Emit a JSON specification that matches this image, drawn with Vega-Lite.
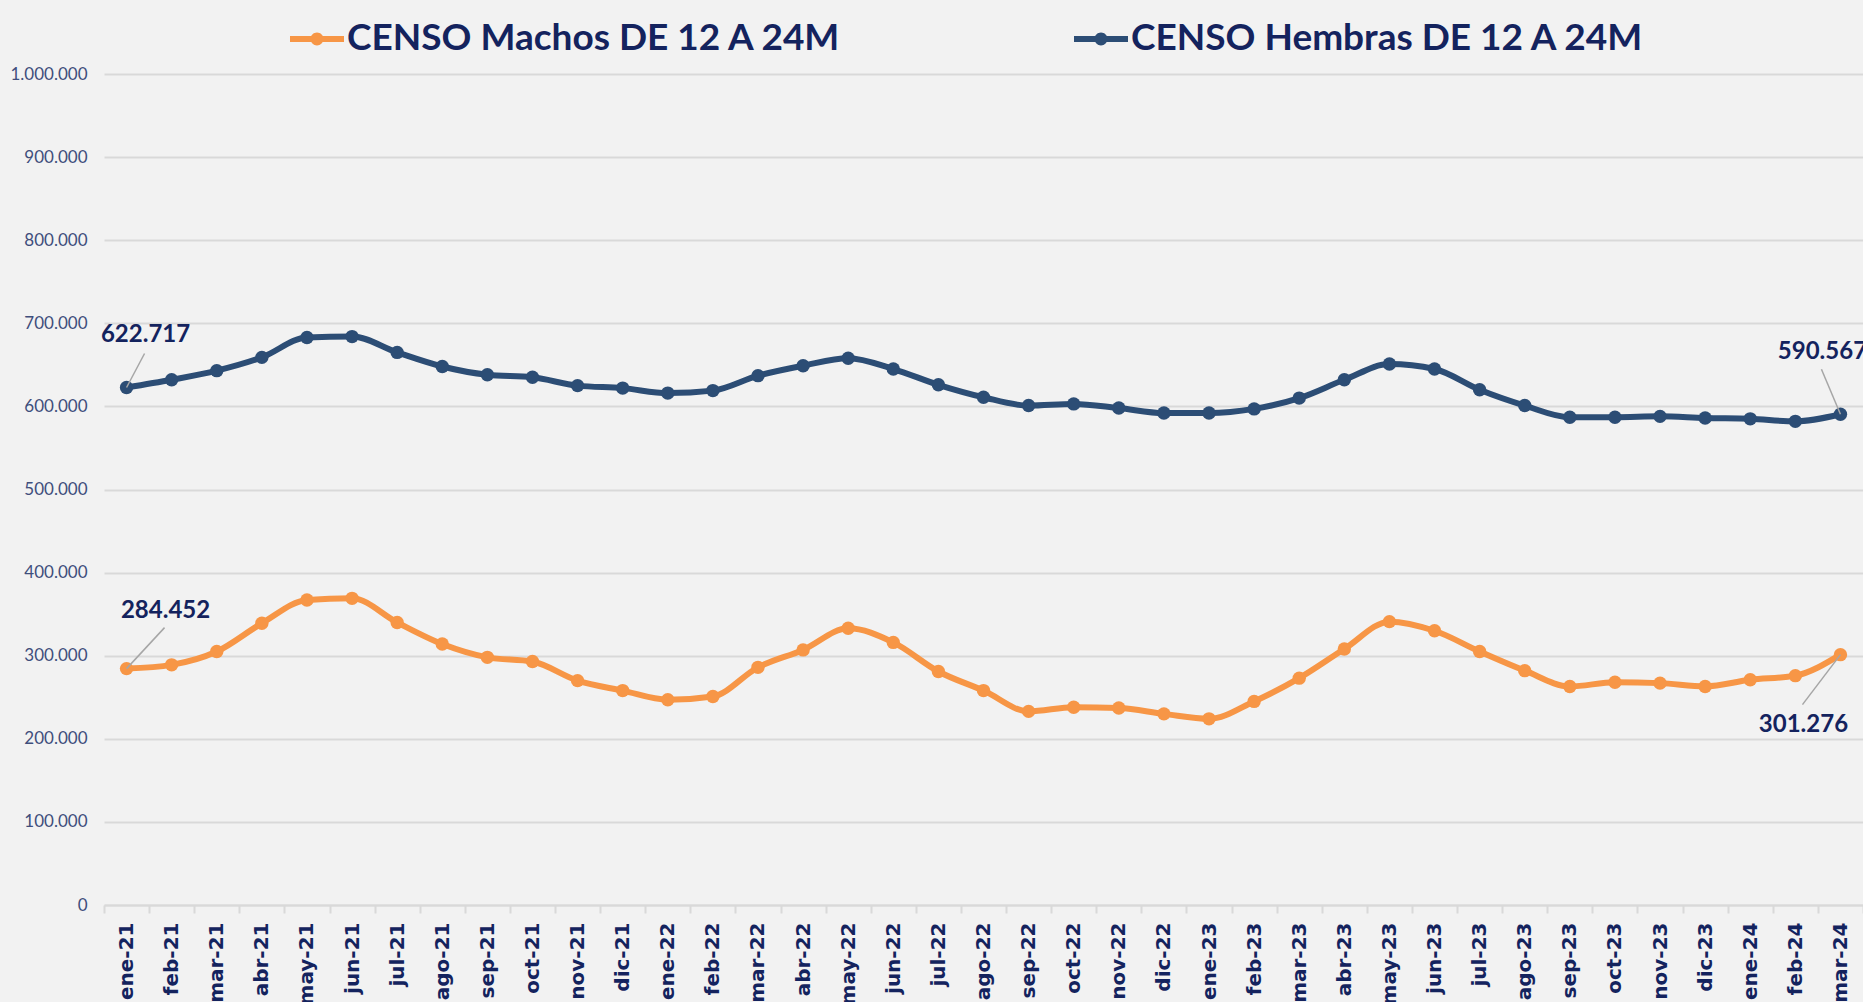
{
  "$schema": "https://vega.github.io/schema/vega-lite/v6.json",
  "autosize": {"type": "none"},
  "padding": {"left": 104, "top": 74, "right": 0, "bottom": 97},
  "width": 1759,
  "height": 831,
  "background": "#F2F2F2",
  "config": {
    "view": {"stroke": null},
    "locale": {"number": {"decimal": ",", "thousands": ".", "grouping": [3], "currency": ["", " €"]}}
  },
  "data": {"values": [
    {"mes": "ene-21", "serie": "CENSO Machos DE 12 A 24M", "valor": 284452},
    {"mes": "feb-21", "serie": "CENSO Machos DE 12 A 24M", "valor": 289000},
    {"mes": "mar-21", "serie": "CENSO Machos DE 12 A 24M", "valor": 305000},
    {"mes": "abr-21", "serie": "CENSO Machos DE 12 A 24M", "valor": 339000},
    {"mes": "may-21", "serie": "CENSO Machos DE 12 A 24M", "valor": 367000},
    {"mes": "jun-21", "serie": "CENSO Machos DE 12 A 24M", "valor": 369000},
    {"mes": "jul-21", "serie": "CENSO Machos DE 12 A 24M", "valor": 340000},
    {"mes": "ago-21", "serie": "CENSO Machos DE 12 A 24M", "valor": 314000},
    {"mes": "sep-21", "serie": "CENSO Machos DE 12 A 24M", "valor": 298000},
    {"mes": "oct-21", "serie": "CENSO Machos DE 12 A 24M", "valor": 293000},
    {"mes": "nov-21", "serie": "CENSO Machos DE 12 A 24M", "valor": 270000},
    {"mes": "dic-21", "serie": "CENSO Machos DE 12 A 24M", "valor": 258000},
    {"mes": "ene-22", "serie": "CENSO Machos DE 12 A 24M", "valor": 247000},
    {"mes": "feb-22", "serie": "CENSO Machos DE 12 A 24M", "valor": 251000},
    {"mes": "mar-22", "serie": "CENSO Machos DE 12 A 24M", "valor": 286000},
    {"mes": "abr-22", "serie": "CENSO Machos DE 12 A 24M", "valor": 307000},
    {"mes": "may-22", "serie": "CENSO Machos DE 12 A 24M", "valor": 333000},
    {"mes": "jun-22", "serie": "CENSO Machos DE 12 A 24M", "valor": 316000},
    {"mes": "jul-22", "serie": "CENSO Machos DE 12 A 24M", "valor": 281000},
    {"mes": "ago-22", "serie": "CENSO Machos DE 12 A 24M", "valor": 258000},
    {"mes": "sep-22", "serie": "CENSO Machos DE 12 A 24M", "valor": 233000},
    {"mes": "oct-22", "serie": "CENSO Machos DE 12 A 24M", "valor": 238000},
    {"mes": "nov-22", "serie": "CENSO Machos DE 12 A 24M", "valor": 237000},
    {"mes": "dic-22", "serie": "CENSO Machos DE 12 A 24M", "valor": 230000},
    {"mes": "ene-23", "serie": "CENSO Machos DE 12 A 24M", "valor": 224000},
    {"mes": "feb-23", "serie": "CENSO Machos DE 12 A 24M", "valor": 245000},
    {"mes": "mar-23", "serie": "CENSO Machos DE 12 A 24M", "valor": 273000},
    {"mes": "abr-23", "serie": "CENSO Machos DE 12 A 24M", "valor": 308000},
    {"mes": "may-23", "serie": "CENSO Machos DE 12 A 24M", "valor": 341000},
    {"mes": "jun-23", "serie": "CENSO Machos DE 12 A 24M", "valor": 330000},
    {"mes": "jul-23", "serie": "CENSO Machos DE 12 A 24M", "valor": 305000},
    {"mes": "ago-23", "serie": "CENSO Machos DE 12 A 24M", "valor": 282000},
    {"mes": "sep-23", "serie": "CENSO Machos DE 12 A 24M", "valor": 263000},
    {"mes": "oct-23", "serie": "CENSO Machos DE 12 A 24M", "valor": 268000},
    {"mes": "nov-23", "serie": "CENSO Machos DE 12 A 24M", "valor": 267000},
    {"mes": "dic-23", "serie": "CENSO Machos DE 12 A 24M", "valor": 263000},
    {"mes": "ene-24", "serie": "CENSO Machos DE 12 A 24M", "valor": 271000},
    {"mes": "feb-24", "serie": "CENSO Machos DE 12 A 24M", "valor": 276000},
    {"mes": "mar-24", "serie": "CENSO Machos DE 12 A 24M", "valor": 301276},
    {"mes": "ene-21", "serie": "CENSO Hembras DE 12 A 24M", "valor": 622717},
    {"mes": "feb-21", "serie": "CENSO Hembras DE 12 A 24M", "valor": 632000},
    {"mes": "mar-21", "serie": "CENSO Hembras DE 12 A 24M", "valor": 643000},
    {"mes": "abr-21", "serie": "CENSO Hembras DE 12 A 24M", "valor": 659000},
    {"mes": "may-21", "serie": "CENSO Hembras DE 12 A 24M", "valor": 683000},
    {"mes": "jun-21", "serie": "CENSO Hembras DE 12 A 24M", "valor": 684000},
    {"mes": "jul-21", "serie": "CENSO Hembras DE 12 A 24M", "valor": 665000},
    {"mes": "ago-21", "serie": "CENSO Hembras DE 12 A 24M", "valor": 648000},
    {"mes": "sep-21", "serie": "CENSO Hembras DE 12 A 24M", "valor": 638000},
    {"mes": "oct-21", "serie": "CENSO Hembras DE 12 A 24M", "valor": 635000},
    {"mes": "nov-21", "serie": "CENSO Hembras DE 12 A 24M", "valor": 625000},
    {"mes": "dic-21", "serie": "CENSO Hembras DE 12 A 24M", "valor": 622000},
    {"mes": "ene-22", "serie": "CENSO Hembras DE 12 A 24M", "valor": 616000},
    {"mes": "feb-22", "serie": "CENSO Hembras DE 12 A 24M", "valor": 619000},
    {"mes": "mar-22", "serie": "CENSO Hembras DE 12 A 24M", "valor": 637000},
    {"mes": "abr-22", "serie": "CENSO Hembras DE 12 A 24M", "valor": 649000},
    {"mes": "may-22", "serie": "CENSO Hembras DE 12 A 24M", "valor": 658000},
    {"mes": "jun-22", "serie": "CENSO Hembras DE 12 A 24M", "valor": 645000},
    {"mes": "jul-22", "serie": "CENSO Hembras DE 12 A 24M", "valor": 626000},
    {"mes": "ago-22", "serie": "CENSO Hembras DE 12 A 24M", "valor": 611000},
    {"mes": "sep-22", "serie": "CENSO Hembras DE 12 A 24M", "valor": 601000},
    {"mes": "oct-22", "serie": "CENSO Hembras DE 12 A 24M", "valor": 603000},
    {"mes": "nov-22", "serie": "CENSO Hembras DE 12 A 24M", "valor": 598000},
    {"mes": "dic-22", "serie": "CENSO Hembras DE 12 A 24M", "valor": 592000},
    {"mes": "ene-23", "serie": "CENSO Hembras DE 12 A 24M", "valor": 592000},
    {"mes": "feb-23", "serie": "CENSO Hembras DE 12 A 24M", "valor": 597000},
    {"mes": "mar-23", "serie": "CENSO Hembras DE 12 A 24M", "valor": 610000},
    {"mes": "abr-23", "serie": "CENSO Hembras DE 12 A 24M", "valor": 632000},
    {"mes": "may-23", "serie": "CENSO Hembras DE 12 A 24M", "valor": 651000},
    {"mes": "jun-23", "serie": "CENSO Hembras DE 12 A 24M", "valor": 645000},
    {"mes": "jul-23", "serie": "CENSO Hembras DE 12 A 24M", "valor": 620000},
    {"mes": "ago-23", "serie": "CENSO Hembras DE 12 A 24M", "valor": 601000},
    {"mes": "sep-23", "serie": "CENSO Hembras DE 12 A 24M", "valor": 587000},
    {"mes": "oct-23", "serie": "CENSO Hembras DE 12 A 24M", "valor": 587000},
    {"mes": "nov-23", "serie": "CENSO Hembras DE 12 A 24M", "valor": 588000},
    {"mes": "dic-23", "serie": "CENSO Hembras DE 12 A 24M", "valor": 586000},
    {"mes": "ene-24", "serie": "CENSO Hembras DE 12 A 24M", "valor": 585000},
    {"mes": "feb-24", "serie": "CENSO Hembras DE 12 A 24M", "valor": 582000},
    {"mes": "mar-24", "serie": "CENSO Hembras DE 12 A 24M", "valor": 590567}
  ]},
  "encoding": {
    "x": {
      "field": "mes", "type": "ordinal",
      "scale": {
        "type": "band", "paddingInner": 0, "paddingOuter": 0,
        "domain": ["ene-21","feb-21","mar-21","abr-21","may-21","jun-21","jul-21","ago-21","sep-21","oct-21","nov-21","dic-21","ene-22","feb-22","mar-22","abr-22","may-22","jun-22","jul-22","ago-22","sep-22","oct-22","nov-22","dic-22","ene-23","feb-23","mar-23","abr-23","may-23","jun-23","jul-23","ago-23","sep-23","oct-23","nov-23","dic-23","ene-24","feb-24","mar-24"]
      },
      "axis": {
        "title": null, "labelAngle": -90, "labelAlign": "right", "labelBaseline": "middle",
        "labelFont": "DejaVu Sans", "labelFontWeight": "bold", "labelFontSize": 20, "labelColor": "#14235E",
        "labelPadding": 9, "tickBand": "extent", "ticks": true, "tickColor": "#D9D9D9", "tickWidth": 2, "tickSize": 8,
        "domain": true, "domainColor": "#D9D9D9", "domainWidth": 2, "grid": false, "labelOverlap": false
      }
    },
    "y": {
      "field": "valor", "type": "quantitative",
      "scale": {"domain": [0, 1000000], "nice": false},
      "axis": {
        "title": null, "values": [0,100000,200000,300000,400000,500000,600000,700000,800000,900000,1000000],
        "format": ",d", "labelFont": "Lato", "labelFontSize": 17, "labelColor": "#404E7C",
        "ticks": false, "domain": false, "labelPadding": 17,
        "grid": true, "gridColor": "#D9D9D9", "gridWidth": 2
      }
    }
  },
  "layer": [
    {
      "mark": {"type": "line", "interpolate": "monotone", "strokeWidth": 6, "point": {"filled": true, "size": 180}},
      "encoding": {
        "color": {
          "field": "serie", "type": "nominal",
          "scale": {"domain": ["CENSO Machos DE 12 A 24M", "CENSO Hembras DE 12 A 24M"], "range": ["#F79646", "#2C4D75"]},
          "legend": {
            "title": null, "orient": "none", "direction": "horizontal", "legendX": 186, "legendY": -62,
            "labelFont": "Lato", "labelFontWeight": "bold", "labelFontSize": 37, "labelColor": "#14235E",
            "symbolType": "M-1,-0.11L1,-0.11L1,0.11L-1,0.11Z M-0.24,0A0.24,0.24 0 1,1 0.24,0A0.24,0.24 0 1,1 -0.24,0Z",
            "symbolSize": 2916, "symbolStrokeWidth": 0, "labelOffset": 3, "columnPadding": 232, "labelLimit": 0,
            "encode": {"symbols": {"update": {"fill": {"scale": "color", "field": "value"}, "stroke": {"value": "transparent"}, "opacity": {"value": 1}}}}
          }
        }
      }
    },
    {
      "transform": [{"filter": "datum.mes == 'ene-21' && datum.serie == 'CENSO Hembras DE 12 A 24M'"}],
      "mark": {"type": "rule", "color": "#A6A6A6", "strokeWidth": 1.5, "x2Offset": 18, "y2Offset": -34},
      "encoding": {"x2": {"field": "mes"}, "y2": {"field": "valor"}}
    },
    {
      "transform": [{"filter": "datum.mes == 'ene-21' && datum.serie == 'CENSO Machos DE 12 A 24M'"}],
      "mark": {"type": "rule", "color": "#A6A6A6", "strokeWidth": 1.5, "x2Offset": 38, "y2Offset": -41},
      "encoding": {"x2": {"field": "mes"}, "y2": {"field": "valor"}}
    },
    {
      "transform": [{"filter": "datum.mes == 'mar-24' && datum.serie == 'CENSO Hembras DE 12 A 24M'"}],
      "mark": {"type": "rule", "color": "#A6A6A6", "strokeWidth": 1.5, "x2Offset": -19, "y2Offset": -45},
      "encoding": {"x2": {"field": "mes"}, "y2": {"field": "valor"}}
    },
    {
      "transform": [{"filter": "datum.mes == 'mar-24' && datum.serie == 'CENSO Machos DE 12 A 24M'"}],
      "mark": {"type": "rule", "color": "#A6A6A6", "strokeWidth": 1.5, "x2Offset": -38, "y2Offset": 50},
      "encoding": {"x2": {"field": "mes"}, "y2": {"field": "valor"}}
    },
    {
      "transform": [{"filter": "datum.mes == 'ene-21' && datum.serie == 'CENSO Hembras DE 12 A 24M'"}],
      "mark": {"type": "text", "font": "Lato", "fontWeight": "bold", "fontSize": 24, "color": "#14235E", "align": "center", "baseline": "middle", "dx": 19, "dy": -53},
      "encoding": {"text": {"field": "valor", "type": "quantitative", "format": ","}}
    },
    {
      "transform": [{"filter": "datum.mes == 'ene-21' && datum.serie == 'CENSO Machos DE 12 A 24M'"}],
      "mark": {"type": "text", "font": "Lato", "fontWeight": "bold", "fontSize": 24, "color": "#14235E", "align": "center", "baseline": "middle", "dx": 39, "dy": -58},
      "encoding": {"text": {"field": "valor", "type": "quantitative", "format": ","}}
    },
    {
      "transform": [{"filter": "datum.mes == 'mar-24' && datum.serie == 'CENSO Hembras DE 12 A 24M'"}],
      "mark": {"type": "text", "font": "Lato", "fontWeight": "bold", "fontSize": 24, "color": "#14235E", "align": "center", "baseline": "middle", "dx": -18, "dy": -62},
      "encoding": {"text": {"field": "valor", "type": "quantitative", "format": ","}}
    },
    {
      "transform": [{"filter": "datum.mes == 'mar-24' && datum.serie == 'CENSO Machos DE 12 A 24M'"}],
      "mark": {"type": "text", "font": "Lato", "fontWeight": "bold", "fontSize": 24, "color": "#14235E", "align": "center", "baseline": "middle", "dx": -37, "dy": 70},
      "encoding": {"text": {"field": "valor", "type": "quantitative", "format": ","}}
    }
  ]
}
